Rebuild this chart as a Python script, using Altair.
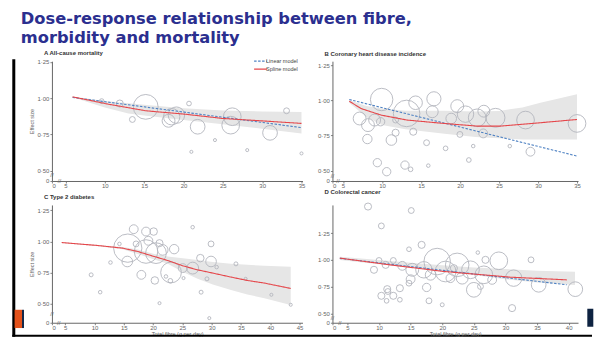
import altair as alt
import pandas as pd

# ---------------- text ----------------
TITLE_LINES = ["Dose-response relationship between fibre,", "morbidity and mortality"]
PANEL_TITLES = ["A  All-cause mortality", "B  Coronary heart disease incidence",
                "C  Type 2 diabetes", "D  Colorectal cancer"]
MODELS = ["Linear model", "Spline model"]
X_TITLE = "Total fibre (g per day)"
Y_TITLE = "Effect size"

# ---------------- A: all-cause mortality ----------------
a_study_x = [15.2, 18.5, 19.1, 18.1, 21.8, 26.2, 26.0, 31.0, 33.1, 20.7, 13.5, 11.9, 9.6, 24.0, 21.0, 28.1, 35.0]
a_study_y = [0.94, 0.872, 0.883, 0.844, 0.803, 0.872, 0.814, 0.761, 0.913, 0.963, 0.853, 0.963, 0.98, 0.711, 0.63, 0.642, 0.619]
a_study_w = [196, 86, 86, 53, 69, 100, 100, 69, 11, 7, 11, 16, 7, 3, 3, 3, 3]
a_spline_x = [5.9, 10.4, 15.2, 20.1, 25.0, 29.8, 35.0]
a_spline_y = [1.009, 0.959, 0.913, 0.89, 0.86, 0.844, 0.826]
a_linear_x = [5.9, 35.0]
a_linear_y = [1.005, 0.797]
a_ci_x = [5.9, 10, 13, 15, 20, 25, 30, 35]
a_ci_hi = [1.012, 0.98, 0.965, 0.955, 0.93, 0.915, 0.908, 0.905]
a_ci_lo = [1.006, 0.935, 0.895, 0.88, 0.85, 0.82, 0.79, 0.757]

# ---------------- B: coronary heart disease ----------------
b_study_x = [9.95, 13.15, 14.3, 16.65, 16.44, 19.64, 20.7, 22.2, 23.05, 24.55, 28.4, 35.0, 18.87, 7.13, 8.2,
             9.05, 9.82, 11.74, 14.0, 8.12, 11.2, 15.71, 18.15, 19.98, 22.97, 21.69, 26.38, 29.03, 21.13,
             9.4, 10.6, 12.94, 13.66, 15.93, 11.74]
b_study_y = [1.006, 0.907, 0.983, 1.011, 0.919, 0.959, 0.902, 0.876, 0.923, 0.876, 0.86, 0.836, 0.871, 0.871,
             0.824, 0.86, 0.848, 0.77, 0.777, 0.725, 0.718, 0.699, 0.659, 0.758, 0.765, 0.675, 0.675, 0.635,
             0.576, 0.557, 0.493, 0.54, 0.51, 0.536, 0.86]
b_study_w = [161, 225, 59, 64, 45, 53, 86, 100, 45, 114, 100, 100, 36, 53, 53, 45, 22, 16, 16, 28, 36, 11, 7,
             11, 25, 4, 4, 25, 7, 22, 22, 22, 7, 4, 11]
b_spline_x = [5.8, 7.3, 9.9, 13.2, 17.9, 22.2, 25.2, 30.3, 35.0]
b_spline_y = [0.994, 0.942, 0.895, 0.86, 0.836, 0.817, 0.817, 0.841, 0.864]
b_linear_x = [5.8, 35.0]
b_linear_y = [1.006, 0.604]
b_ci_x = [5.8, 8, 10, 13, 18, 22, 25, 28, 30.3, 35.0]
b_ci_hi = [1.0, 0.96, 0.942, 0.926, 0.926, 0.92, 0.925, 0.95, 0.983, 1.044]
b_ci_lo = [0.983, 0.88, 0.824, 0.795, 0.762, 0.74, 0.73, 0.722, 0.722, 0.722]

# ---------------- C: type 2 diabetes ----------------
c_study_x = [15.68, 18.8, 20.5, 16.7, 18.8, 20.1, 19.2, 21.1, 17.1, 21.65, 23.6, 15.6, 18.0, 20.3, 23.07,
             25.06, 26.76, 28.07, 29.9, 29.9, 22.95, 22.2, 30.85, 29.2, 28.2, 25.2, 34.15, 35.8, 40.2, 43.5,
             29.6, 21.1, 9.43, 10.97, 12.73, 14.26, 26.76]
c_study_y = [0.946, 0.919, 0.906, 1.098, 1.079, 1.079, 1.005, 0.986, 0.98, 0.932, 0.938, 0.839, 0.732, 0.687,
             0.751, 0.786, 0.786, 0.866, 0.839, 0.98, 0.684, 0.719, 0.794, 0.70, 0.593, 0.706, 0.82, 0.70,
             0.572, 0.492, 0.385, 0.505, 0.732, 0.593, 0.831, 0.98, 1.114]
c_study_w = [256, 177, 137, 25, 25, 18, 25, 16, 11, 36, 28, 36, 25, 18, 137, 25, 45, 18, 36, 11, 7, 4, 4, 5,
             5, 3, 5, 3, 3, 3, 3, 3, 5, 4, 4, 4, 4]
c_spline_x = [4.4, 10.6, 14.8, 17.4, 20.2, 22.5, 25.1, 27.6, 30.2, 33.3, 36.1, 39.0, 43.5]
c_spline_y = [0.991, 0.967, 0.946, 0.919, 0.879, 0.847, 0.804, 0.772, 0.746, 0.714, 0.687, 0.666, 0.623]
c_ci_x = [4.4, 10.6, 14.8, 17.4, 20.2, 22.5, 25.1, 27.6, 30.2, 33.3, 36.1, 39.0, 43.5]
c_ci_hi = [0.995, 0.972, 0.955, 0.935, 0.9, 0.88, 0.866, 0.85, 0.835, 0.82, 0.812, 0.805, 0.797]
c_ci_lo = [0.987, 0.962, 0.937, 0.9, 0.855, 0.82, 0.755, 0.7, 0.655, 0.61, 0.575, 0.545, 0.49]

# ---------------- D: colorectal cancer ----------------
d_study_x = [8.26, 15.1, 10.37, 16.74, 14.74, 25.63, 34.05, 19.2, 22.37, 20.53, 24.47, 28.95, 26.84, 26.58,
             31.3, 35.26, 41.05, 17.1, 15.26, 13.68, 12.26, 10.0, 9.2, 11.05, 15.0, 14.74, 11.3, 13.3, 11.4,
             10.37, 12.26, 11.2, 13.3, 17.53, 17.9, 20.0, 25.0, 26.05, 31.05, 21.84, 23.16, 21.3, 18.16, 27.9]
d_study_y = [1.499, 1.462, 1.318, 1.141, 1.1, 1.069, 1.001, 0.985, 0.954, 0.892, 0.908, 0.992, 1.001, 0.861,
             0.83, 0.768, 0.727, 0.908, 0.908, 0.945, 0.995, 0.995, 0.908, 0.954, 0.82, 0.783, 0.727, 0.736,
             0.705, 0.665, 0.665, 0.618, 0.628, 0.743, 0.618, 0.581, 0.721, 0.752, 0.55, 0.923, 0.83, 0.83,
             0.861, 0.814]
d_study_w = [16, 11, 11, 16, 7, 4, 11, 225, 177, 137, 100, 100, 16, 100, 86, 69, 69, 86, 53, 25, 11, 11, 16,
             16, 25, 11, 16, 16, 11, 16, 16, 7, 7, 22, 11, 5, 69, 11, 16, 16, 45, 25, 36, 25]
d_spline_x = [3.8, 12.0, 20.3, 30.8, 39.7]
d_spline_y = [1.017, 0.952, 0.892, 0.839, 0.814]
d_linear_x = [3.8, 39.7]
d_linear_y = [1.015, 0.768]
d_ci_x = [3.8, 10, 15, 20, 25, 30, 35, 41]
d_ci_hi = [1.03, 1.0, 0.975, 0.95, 0.93, 0.915, 0.9, 0.89]
d_ci_lo = [1.0, 0.96, 0.93, 0.895, 0.86, 0.82, 0.79, 0.765]

# ---------------- styles ----------------
FONT = "Liberation Sans"
TITLE_FONT = "DejaVu Sans"
TITLE_C = "#2b2f8f"
RED = "#e5474b"
BLUE = "#4f82c3"
BUB_C = "#b3b6bd"
BAND_C = "#e6e6e6"
AXIS_C = "#666666"


def panel(sx, sy, sw, spx, spy, lnx, lny, cix, cilo, cihi, xdom, ydom, xticks, yticks,
          w, h, title, toff, ytitle, xtitle, show_legend, ybreak, xbreak, extras):
    xs = alt.Scale(domain=xdom, nice=False, zero=False)
    ys = alt.Scale(domain=ydom, nice=False, zero=False)
    xax = alt.Axis(values=[xdom[0]] + xticks, title=xtitle,
                   labelExpr="datum.value < 4.6 ? '0' : format(datum.value, 'd')")
    yax = alt.Axis(values=[ydom[0]] + yticks, title=ytitle,
                   labelExpr="datum.value < 0.49 ? '0' : replace(format(datum.value, '.2f'), '.', '·')")
    X = alt.X("x:Q", scale=xs, axis=xax)
    Y = alt.Y("y:Q", scale=ys, axis=yax)

    band = alt.Chart(pd.DataFrame({"x": cix, "y": cilo, "hi": cihi})).mark_area(
        color=BAND_C, opacity=1).encode(x=X, y=Y, y2="hi:Q")

    bub = alt.Chart(pd.DataFrame({"x": sx, "y": sy, "w": sw})).mark_point(
        shape="circle", filled=False, color=BUB_C, strokeWidth=0.9, opacity=1).encode(
        x=X, y=Y,
        size=alt.Size("w:Q", scale=alt.Scale(domain=[0, 100], range=[0, 314.16]), legend=None))

    mx = list(lnx) + list(spx)
    my = list(lny) + list(spy)
    mm = ["Linear model"] * len(lnx) + ["Spline model"] * len(spx)
    if show_legend:
        leg = alt.Legend(orient="none", legendX=205, legendY=-4, title=None, labelFontSize=5.5,
                         labelFont=FONT, labelColor="#444", symbolType="M-2,0H2", symbolSize=42,
                         symbolStrokeWidth=1.2, rowPadding=-5, padding=0, labelOffset=1.5)
    else:
        leg = None
    lines = alt.Chart(pd.DataFrame({"x": mx, "y": my, "model": mm})).mark_line(strokeWidth=1.1).encode(
        x=X, y=Y,
        color=alt.Color("model:N", scale=alt.Scale(domain=MODELS, range=[BLUE, RED]), legend=leg),
        strokeDash=alt.StrokeDash("model:N", scale=alt.Scale(domain=MODELS, range=[[2.5, 1.5], [1, 0]]),
                                  legend=leg))

    brk_y = alt.Chart(pd.DataFrame({"x": [xdom[0]], "y": [ybreak]})).mark_text(
        text="//", fontSize=6, color=AXIS_C, font=FONT).encode(x=X, y=Y)
    brk_x = alt.Chart(pd.DataFrame({"x": [xbreak], "y": [ydom[0]]})).mark_text(
        text="//", fontSize=6, color=AXIS_C, font=FONT).encode(x=X, y=Y)

    layers = [band, bub, lines, brk_y, brk_x] + extras
    return alt.layer(*layers).properties(
        width=w, height=h,
        title=alt.TitleParams(title, anchor="start", frame="group", dx=-8, offset=toff, fontSize=6,
                              fontWeight="bold", color="#333333", font=FONT))


one = pd.DataFrame({"k": [0]})
a_extras = [
    alt.Chart(one).mark_rule(color="black", strokeWidth=3).encode(
        x=alt.value(-38.2), y=alt.value(-2), y2=alt.value(276)),
    alt.Chart(one).mark_rect(color="#e4521b").encode(
        x=alt.value(-37.4), x2=alt.value(-30), y=alt.value(249), y2=alt.value(267.3)),
    alt.Chart(one).mark_rect(color="#13294b").encode(
        x=alt.value(-30), x2=alt.value(-28), y=alt.value(249), y2=alt.value(267.3)),
]
c_extras = [
    alt.Chart(one).mark_rule(color="black", strokeWidth=2).encode(
        x=alt.value(-39.7), x2=alt.value(541), y=alt.value(131)),
]
d_extras = [
    alt.Chart(one).mark_rect(color="#0e2341").encode(
        x=alt.value(255.3), x2=alt.value(261.3), y=alt.value(104), y2=alt.value(122)),
]

pa = panel(a_study_x, a_study_y, a_study_w, a_spline_x, a_spline_y, a_linear_x, a_linear_y,
           a_ci_x, a_ci_lo, a_ci_hi, [3.274, 35.127], [0.4291, 1.2548], [5, 10, 15, 20, 25, 30, 35],
           [0.5, 0.75, 1.0, 1.25], 251, 120, PANEL_TITLES[0], 2, Y_TITLE, None, True, 0.467, 4.24, a_extras)
pb = panel(b_study_x, b_study_y, b_study_w, b_spline_x, b_spline_y, b_linear_x, b_linear_y,
           b_ci_x, b_ci_lo, b_ci_hi, [3.643, 35.128], [0.4269, 1.2784], [5, 10, 15, 20, 25, 30, 35],
           [0.5, 0.75, 1.0, 1.25], 246, 120, PANEL_TITLES[1], 4, None, None, False, 0.465, 4.35, [])
pc = panel(c_study_x, c_study_y, c_study_w, c_spline_x, c_spline_y, [], [],
           c_ci_x, c_ci_lo, c_ci_hi, [2.733, 45.511], [0.3479, 1.2924],
           [5, 10, 15, 20, 25, 30, 35, 40, 45], [0.5, 0.75, 1.0, 1.25], 251, 118, PANEL_TITLES[2], 5,
           Y_TITLE, X_TITLE, False, 0.42, 3.9, c_extras)
pd_ = panel(d_study_x, d_study_y, d_study_w, d_spline_x, d_spline_y, d_linear_x, d_linear_y,
            d_ci_x, d_ci_lo, d_ci_hi, [2.631, 41.485], [0.4132, 1.514], [5, 10, 15, 20, 25, 30, 35, 40],
            [0.5, 0.75, 1.0, 1.25], 246, 118, PANEL_TITLES[3], 6, None, X_TITLE, False, 0.455, 3.8, d_extras)

chart = alt.concat(
    pa, pb, pc, pd_, columns=2, spacing={"row": 24, "column": 30}, bounds="flush",
    title=alt.TitleParams(TITLE_LINES, anchor="start", frame="group", dx=-31.2, fontSize=16.3,
                          fontWeight="bold", color=TITLE_C, font=TITLE_FONT, lineHeight=18.5, offset=3.5),
).properties(
    padding={"left": 3, "top": 3, "right": 0, "bottom": 0}
).configure(
    background="white"
).configure_view(
    stroke=None
).configure_axis(
    domainColor=AXIS_C, tickColor=AXIS_C, tickSize=2, tickWidth=0.8, domainWidth=1,
    labelFontSize=6, labelColor=AXIS_C, labelFont=FONT, labelPadding=1,
    titleFont=FONT, titleFontSize=5.5, titleFontWeight="normal", titleColor=AXIS_C, grid=False,
).configure_axisX(
    labelPadding=0, titlePadding=1
).configure_axisY(
    titlePadding=2
)

chart.save("out.html", embed_options={"renderer": "svg", "actions": False})
